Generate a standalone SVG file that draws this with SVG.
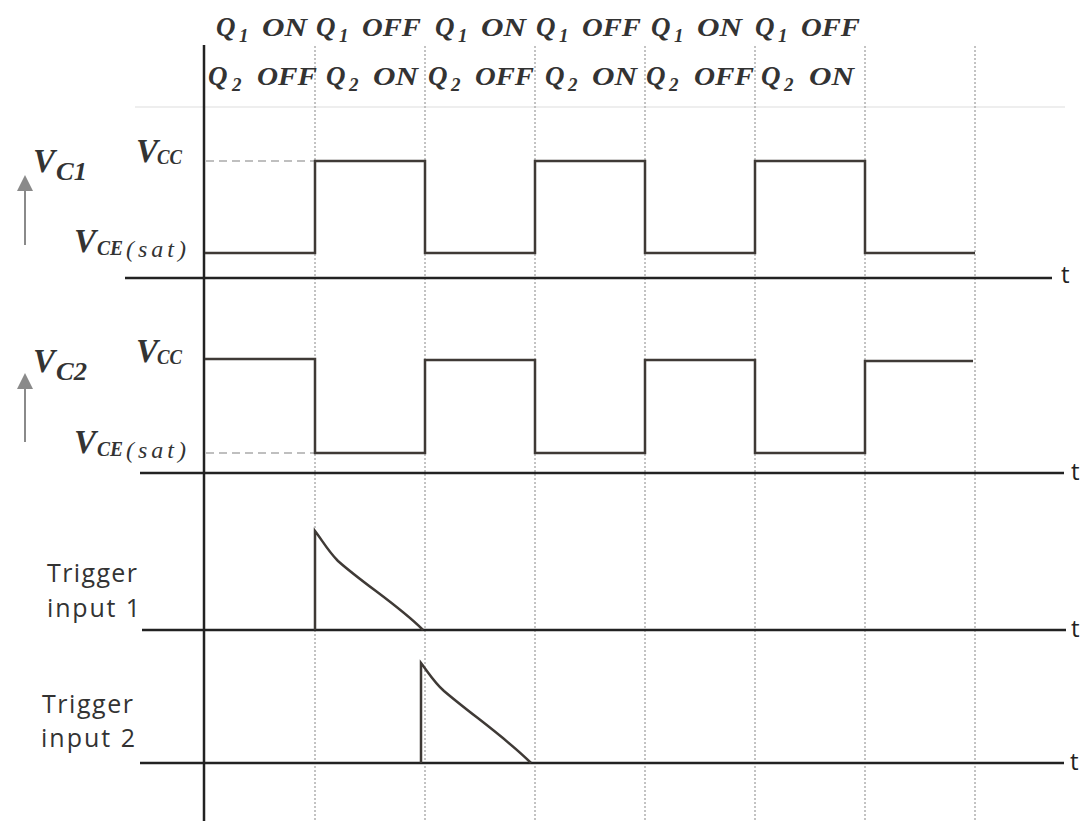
<svg xmlns="http://www.w3.org/2000/svg" width="1087" height="821" viewBox="0 0 1087 821">
<style>
.m{font-family:"Liberation Serif","Times New Roman",serif;font-style:italic;font-weight:bold;fill:#333}
.h{font-size:25px}
.q{font-size:27px}
.hs{font-size:19px}
.vb{font-size:33px}
.vs{font-size:20px}
.vp{font-size:24px;font-weight:normal}
.vm{font-size:26px}
.sans{font-family:"Open Sans","Noto Sans","Liberation Sans",sans-serif;fill:#333;font-size:25px}
.tl{font-family:"Open Sans","Noto Sans","Liberation Sans",sans-serif;fill:#222;font-size:24px}
.axis{stroke:#222;stroke-width:2.5;fill:none}
.grid{stroke:#b0b0b0;stroke-width:1.5;stroke-dasharray:2 2;fill:none}
.dash{stroke:#aaa;stroke-width:1.5;stroke-dasharray:8 5;fill:none}
.wave{stroke:#3f3a36;stroke-width:2.5;fill:none;stroke-linejoin:miter}
.arr{stroke:#8a8a8a;stroke-width:2;fill:none}
</style>
<rect width="1087" height="821" fill="#fff"/>

<g id="grid">
<line x1="135" y1="107" x2="1065" y2="107" stroke="#e8e8e8" stroke-width="1.5"/>
<line class="grid" x1="315" y1="46" x2="315" y2="821"/>
<line class="grid" x1="425" y1="46" x2="425" y2="821"/>
<line class="grid" x1="535" y1="46" x2="535" y2="821"/>
<line class="grid" x1="645" y1="46" x2="645" y2="821"/>
<line class="grid" x1="755" y1="46" x2="755" y2="821"/>
<line class="grid" x1="865" y1="46" x2="865" y2="821"/>
<line class="grid" x1="975" y1="46" x2="975" y2="821"/>
</g>

<g id="header">
<text class="m q" x="216" y="36">Q</text><text class="m hs" x="239" y="42">1</text><text class="m h" x="262" y="36" textLength="45" lengthAdjust="spacingAndGlyphs">ON</text>
<text class="m q" x="316" y="36">Q</text><text class="m hs" x="339" y="42">1</text><text class="m h" x="362" y="36" textLength="59" lengthAdjust="spacingAndGlyphs">OFF</text>
<text class="m q" x="435" y="36">Q</text><text class="m hs" x="458" y="42">1</text><text class="m h" x="481" y="36" textLength="45" lengthAdjust="spacingAndGlyphs">ON</text>
<text class="m q" x="536" y="36">Q</text><text class="m hs" x="559" y="42">1</text><text class="m h" x="582" y="36" textLength="59" lengthAdjust="spacingAndGlyphs">OFF</text>
<text class="m q" x="651" y="36">Q</text><text class="m hs" x="674" y="42">1</text><text class="m h" x="697" y="36" textLength="45" lengthAdjust="spacingAndGlyphs">ON</text>
<text class="m q" x="755" y="36">Q</text><text class="m hs" x="778" y="42">1</text><text class="m h" x="801" y="36" textLength="59" lengthAdjust="spacingAndGlyphs">OFF</text>

<text class="m q" x="208" y="85">Q</text><text class="m hs" x="232" y="91">2</text><text class="m h" x="257" y="85" textLength="60" lengthAdjust="spacingAndGlyphs">OFF</text>
<text class="m q" x="326" y="85">Q</text><text class="m hs" x="349" y="91">2</text><text class="m h" x="373" y="85" textLength="45" lengthAdjust="spacingAndGlyphs">ON</text>
<text class="m q" x="428" y="85">Q</text><text class="m hs" x="451" y="91">2</text><text class="m h" x="475" y="85" textLength="59" lengthAdjust="spacingAndGlyphs">OFF</text>
<text class="m q" x="545" y="85">Q</text><text class="m hs" x="568" y="91">2</text><text class="m h" x="592" y="85" textLength="45" lengthAdjust="spacingAndGlyphs">ON</text>
<text class="m q" x="646" y="85">Q</text><text class="m hs" x="669" y="91">2</text><text class="m h" x="694" y="85" textLength="60" lengthAdjust="spacingAndGlyphs">OFF</text>
<text class="m q" x="761" y="85">Q</text><text class="m hs" x="784" y="91">2</text><text class="m h" x="809" y="85" textLength="45" lengthAdjust="spacingAndGlyphs">ON</text>
</g>

<g id="axes">
<line class="axis" x1="204" y1="45" x2="204" y2="821"/>
<line class="axis" x1="125" y1="278" x2="1052" y2="278"/>
<line class="axis" x1="140" y1="473" x2="1064" y2="473"/>
<line class="axis" x1="142" y1="630" x2="1066" y2="630"/>
<line class="axis" x1="140" y1="763" x2="1064" y2="763"/>
<text class="tl" x="1061" y="283">t</text>
<text class="tl" x="1071" y="480">t</text>
<text class="tl" x="1071" y="637">t</text>
<text class="tl" x="1070" y="770">t</text>
</g>

<g id="vc1">
<line class="dash" x1="206" y1="161" x2="314" y2="161"/>
<path class="wave" d="M205,253 H315 V161 H425 V253 H535 V161 H645 V253 H755 V161 H865 V253 H975"/>
<text class="m vb" x="33" y="172">V</text><text class="m vm" x="56" y="180" textLength="31" lengthAdjust="spacingAndGlyphs">C1</text>
<text class="m vb" x="136" y="162">V</text><text class="m vs" x="157" y="164" textLength="25" lengthAdjust="spacingAndGlyphs">CC</text>
<text class="m vb" x="74" y="252">V</text><text class="m vs" x="97" y="255" textLength="26" lengthAdjust="spacingAndGlyphs">CE</text><text class="m vp" x="126" y="257" textLength="60" lengthAdjust="spacing">(sat)</text>
<line class="arr" x1="25" y1="245" x2="25" y2="188"/>
<path d="M25,175 L33,191 L17,191 Z" fill="#8a8a8a"/>
</g>

<g id="vc2">
<line class="dash" x1="206" y1="453" x2="314" y2="453"/>
<path class="wave" d="M205,359 H315 V453 H425 V360 H535 V453 H645 V360 H755 V453 H865 V361 H973"/>
<text class="m vb" x="33" y="372">V</text><text class="m vm" x="56" y="380" textLength="31" lengthAdjust="spacingAndGlyphs">C2</text>
<text class="m vb" x="136" y="362">V</text><text class="m vs" x="157" y="364" textLength="25" lengthAdjust="spacingAndGlyphs">CC</text>
<text class="m vb" x="74" y="453">V</text><text class="m vs" x="97" y="456" textLength="26" lengthAdjust="spacingAndGlyphs">CE</text><text class="m vp" x="126" y="458" textLength="60" lengthAdjust="spacing">(sat)</text>
<line class="arr" x1="25" y1="442" x2="25" y2="386"/>
<path d="M25,373 L33,389 L17,389 Z" fill="#8a8a8a"/>
</g>

<g id="trigger1">
<path class="wave" d="M315,630 V531 C322,540 328,551 338,561 C365,585 398,605 423,630"/>
<text class="sans" x="47" y="582" textLength="90" lengthAdjust="spacing">Trigger</text>
<text class="sans" x="47" y="617" textLength="93" lengthAdjust="spacing">input 1</text>
</g>

<g id="trigger2">
<path class="wave" d="M421,763 V663 C428,672 434,682 444,691 C472,715 505,737 531,763"/>
<text class="sans" x="42" y="713" textLength="91" lengthAdjust="spacing">Trigger</text>
<text class="sans" x="41" y="747" textLength="94" lengthAdjust="spacing">input 2</text>
</g>
</svg>
